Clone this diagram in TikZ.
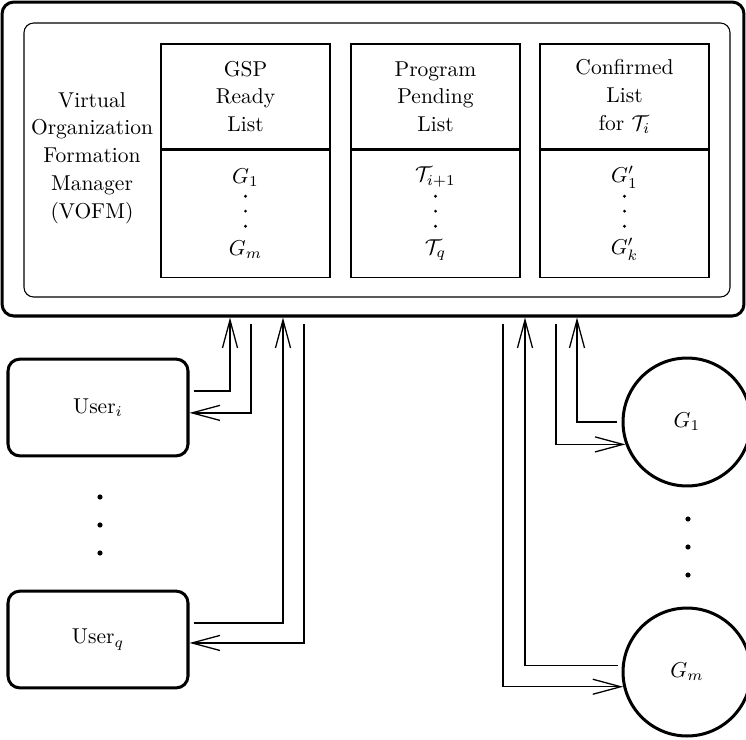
\documentclass[tikz,border=0pt]{standalone}
\usetikzlibrary{arrows.meta,positioning}
\tikzset{
  bigbox/.style={draw,line width=1.4pt,rounded corners=5.5pt},
  innerbox/.style={draw,line width=0.5pt,rounded corners=4.5pt},
  head/.style={draw,minimum width=78.6pt,minimum height=48.8pt,align=center,
    font=\linespread{1.07}\selectfont},
  list/.style={draw,minimum width=78.6pt,minimum height=59pt,align=center},
  user/.style={draw,line width=1.4pt,rounded corners=5.5pt,
    minimum width=83.7pt,minimum height=45pt},
  res/.style={circle,draw,line width=1.4pt,minimum size=59.5pt}
}
\begin{document}
\begin{tikzpicture}[x=0.465pt,y=-0.465pt,line width=0.6pt,
  >={Straight Barb[length=13pt,width=7pt]}]
\useasboundingbox (0,0) rectangle (746,739);
%VOFM
\node[bigbox,minimum width=345pt,minimum height=146pt] (vofm) at (373,159) {};
\node[innerbox,minimum width=328.3pt,minimum height=127.4pt] (inner) at (377,160) {};
\node[align=center,font=\linespread{1.08}\selectfont] (mgr) at (92,158)
  {Virtual\\Organization\\Formation\\Manager\\(VOFM)};
%lists
\node[head] (gsp) at (245.5,96.5) {GSP\\Ready\\List};
\node[list,below=0pt of gsp] (gspl) {$G_1$\\[21.5pt]$G_m$};
\node[head] (prog) at (435.5,96.5) {Program\\Pending\\List};
\node[list,below=0pt of prog] (progl) {$\mathcal{T}_{i+1}$\\[21.5pt]$\mathcal{T}_q$};
\node[head] (conf) at (624.5,96.5) {Confirmed\\List\\for $\mathcal{T}_i$};
\node[list,below=0pt of conf] (confl) {$G'_1$\\[21.5pt]$G'_k$};
\foreach \n in {gspl,progl,confl}
  \foreach \d in {8.1,1.2,-5.8}
    \fill ([yshift=\d pt]\n.center) circle (0.75pt);
%users
\node[user] (useri) at (98,407.5) {User$_i$};
\node[user] (userq) at (98,639.5) {User$_q$};
\foreach \y in {497,525,553} \fill (100,\y) circle (1.2pt);
%GSPs
\node[res] (g1) at (687,422) {$G_1$};
\node[res] (gm) at (687,672) {$G_m$};
\foreach \y in {519,547,575} \fill (688,\y) circle (1.2pt);
%ports
\foreach \n/\x in {a1/230,a2/251,a3/283,a4/304,b1/503,b2/525,b3/556,b4/577}
  \coordinate (\n) at (vofm.south -| \x,0);
\draw[->,shorten <=2pt] ([yshift=7.7pt]useri.east) -| (a1);
\draw[->,shorten <=3pt] (a2) |- ([yshift=-2.5pt]useri.east);
\draw[->,shorten <=2pt] ([yshift=7.7pt]userq.east) -| (a3);
\draw[->,shorten <=3pt] (a4) |- ([yshift=-1.6pt]userq.east);
\draw[->,shorten <=3pt] (b1) |- (gm.193);
\draw[->,shorten <=2pt] (gm.174) -| (b2);
\draw[->,shorten <=3pt] (b3) |- (g1.200);
\draw[->,shorten <=2pt] (g1.west) -| (b4);
\end{tikzpicture}
\end{document}
